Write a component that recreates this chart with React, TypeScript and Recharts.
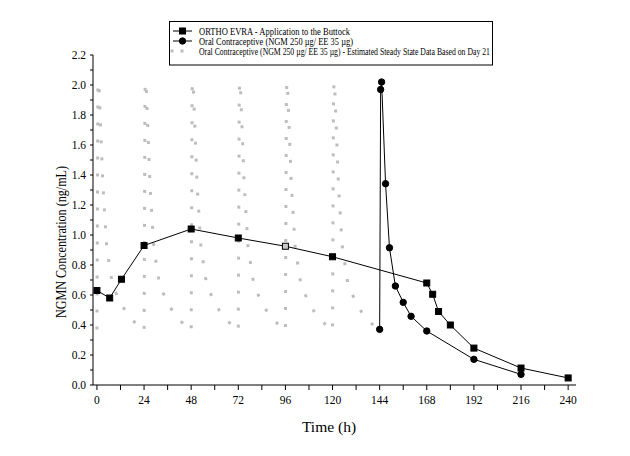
import { LineChart, Line, XAxis, YAxis, Label } from "recharts"

// ORTHO EVRA patch, applied to the buttock
const patchHours = [0, 6.5, 12.5, 24, 48, 72, 96, 120, 168, 171, 174, 180, 192, 216, 240]
const patchConc = [0.63, 0.58, 0.705, 0.93, 1.04, 0.98, 0.925, 0.855, 0.68, 0.605, 0.49, 0.4, 0.246, 0.113, 0.047]

// oral contraceptive, measured on day 7
const ocHours = [144, 144.5, 145, 147, 149, 152, 156, 160, 168, 192, 216]
const ocConc = [0.371, 1.97, 2.02, 1.342, 0.915, 0.66, 0.551, 0.458, 0.36, 0.171, 0.071]

// estimated steady state (day 21 profile), one dosing interval
const ssHours = [0, 0.5, 1, 3, 5, 8, 12, 16, 24]
const ssConc = [0.37, 1.97, 2.02, 1.34, 0.915, 0.66, 0.551, 0.458, 0.36]
const ssDayStarts = [0, 24, 48, 72, 96, 120]

const xTicks = [0, 12, 24, 36, 48, 60, 72, 84, 96, 108, 120, 132, 144, 156, 168, 180, 192, 204, 216, 228, 240]
const yTicks = [0, 0.1, 0.2, 0.3, 0.4, 0.5, 0.6, 0.7, 0.8, 0.9, 1.0, 1.1, 1.2, 1.3, 1.4, 1.5, 1.6, 1.7, 1.8, 1.9, 2.0, 2.1, 2.2]

const legendLabels = [
  "ORTHO EVRA - Application to the Buttock",
  "Oral Contraceptive (NGM 250 µg/ EE 35 µg)",
  "Oral Contraceptive (NGM 250 µg/ EE 35 µg) - Estimated Steady State Data Based on Day 21",
]

const patchData = patchHours.map((t, i) => ({ t, c: patchConc[i] }))
const ocData = ocHours.map((t, i) => ({ t, c: ocConc[i] }))
const ssData = ssDayStarts.flatMap((d) => ssHours.map((h, i) => ({ t: d + h, c: ssConc[i] })))

const serif = "'Liberation Serif', 'Times New Roman', serif"
const tickStyle = { fontSize: 11.5, fill: "#000", fontFamily: serif }

function SquareDot(props: any) {
  const { cx, cy, index, payload } = props
  if (cx == null || cy == null) return null
  const hollow = payload?.t === 96
  return (
    <rect
      key={`sq-${index}`}
      x={cx - 3}
      y={cy - 3}
      width={6}
      height={6}
      fill={hollow ? "#c8c8c8" : "#000"}
      stroke="#000"
      strokeWidth={1}
    />
  )
}

function CircleDot(props: any) {
  const { cx, cy, index } = props
  if (cx == null || cy == null) return null
  return <circle key={`ci-${index}`} cx={cx} cy={cy} r={3.2} fill="#000" stroke="#000" strokeWidth={1} />
}

function ChartLegend() {
  const rows = [31, 41, 51]
  return (
    <svg width={630} height={80} style={{ position: "absolute", left: 0, top: 0, pointerEvents: "none" }}>
      <rect x={169.5} y={21.5} width={323} height={43.5} fill="#fff" stroke="#000" strokeWidth={1} />
      {/* row 1: patch */}
      <line x1={173} y1={rows[0]} x2={192} y2={rows[0]} stroke="#000" />
      <rect x={179.5} y={rows[0] - 3} width={6} height={6} fill="#000" stroke="#000" />
      {/* row 2: oral */}
      <line x1={173} y1={rows[1]} x2={192} y2={rows[1]} stroke="#000" />
      <circle cx={182.5} cy={rows[1]} r={3.2} fill="#000" stroke="#000" />
      {/* row 3: steady state */}
      <rect x={170.5} y={rows[2] - 1.5} width={3} height={3} fill="#bdbdbd" />
      <rect x={180.5} y={rows[2] - 1.5} width={3} height={3} fill="#bdbdbd" />
      {legendLabels.map((s, i) => (
        <text
          key={s}
          x={199}
          y={rows[i] + 3.5}
          fontFamily={serif}
          fontSize={10}
          fill="#000"
          textLength={[151, 154, 291][i]}
          lengthAdjust="spacingAndGlyphs"
        >
          {s}
        </text>
      ))}
    </svg>
  )
}

export default function App() {
  return (
    <div style={{ position: "absolute", left: 0, top: 0, width: 630, height: 456, background: "#fff" }}>
      <LineChart width={630} height={456} margin={{ top: 55, right: 54, bottom: 21, left: 33 }}>
        <XAxis
          type="number"
          dataKey="t"
          domain={[-2, 244]}
          allowDataOverflow
          ticks={xTicks}
          interval={0}
          tickFormatter={(v: number) => (v % 24 === 0 ? String(v) : "")}
          tick={tickStyle}
          tickSize={5}
          tickMargin={6}
          height={50}
          axisLine={{ stroke: "#000" }}
          tickLine={{ stroke: "#000" }}
        >
          <Label
            content={() => (
              <text x={329} y={432} textAnchor="middle" fontFamily={serif} fontSize={15.5} fill="#000">
                Time (h)
              </text>
            )}
          />
        </XAxis>
        <YAxis
          type="number"
          domain={[0, 2.2]}
          allowDataOverflow
          ticks={yTicks}
          interval={0}
          tickFormatter={(v: number) => (Math.round(v * 10) % 2 === 0 ? v.toFixed(1) : "")}
          tick={tickStyle}
          tickSize={3}
          tickMargin={4}
          width={60}
          axisLine={{ stroke: "#000" }}
          tickLine={{ stroke: "#000" }}
        >
          <Label
            content={() => (
              <text
                x={66}
                y={242}
                transform="rotate(-90 66 242)"
                textAnchor="middle"
                fontFamily={serif}
                fontSize={15}
                fill="#000"
                textLength={152}
                lengthAdjust="spacingAndGlyphs"
              >
                NGMN Concentration (ng/mL)
              </text>
            )}
          />
        </YAxis>
        <Line
          data={ssData}
          dataKey="c"
          type="linear"
          stroke="#bdbdbd"
          strokeWidth={3}
          strokeDasharray="3 14"
          dot={false}
          activeDot={false}
          isAnimationActive={false}
        />
        <Line
          data={patchData}
          dataKey="c"
          type="linear"
          stroke="#000"
          strokeWidth={1}
          dot={SquareDot}
          activeDot={false}
          isAnimationActive={false}
        />
        <Line
          data={ocData}
          dataKey="c"
          type="linear"
          stroke="#000"
          strokeWidth={1}
          dot={CircleDot}
          activeDot={false}
          isAnimationActive={false}
        />
      </LineChart>
      <ChartLegend />
    </div>
  )
}
